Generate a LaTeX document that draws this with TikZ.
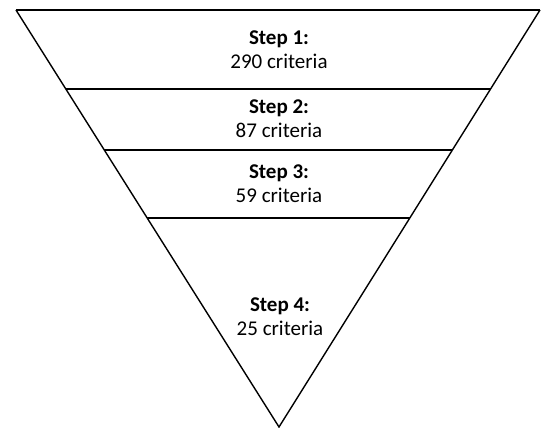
\documentclass[tikz,border=0pt]{standalone}
\usepackage{fontspec}
\setmainfont{Carlito}
\usetikzlibrary{calc}

\tikzset{
	stage/.style={align=center, font=\fontsize{21}{24}\selectfont, inner sep=0.75pt},
	cut/.style={line width=2pt},
}

\begin{document}
\begin{tikzpicture}[x=1pt,y=1pt,yscale=-1]
	\useasboundingbox (0,0) rectangle (547,428);
	% funnel outline
	\coordinate (tl) at (16,10);
	\coordinate (tr) at (540,10);
	\coordinate (apex) at (279,427);
	\draw [line width=1.4pt, line join=miter] (tl) -- (apex) -- (tr);
	\draw [cut] (tl) -- (tr);
	% cuts between the steps
	\foreach \t [count=\i] in {0.1894,0.3357,0.4988} {
		\draw [cut] ($(tl)!\t!(apex)$) -- ($(tr)!\t!(apex)$);
	}
	\draw (279,50) node [stage] (s1) {\textbf{Step 1:}\\290 criteria};
	\draw (279,119) node [stage] (s2) {\textbf{Step 2:}\\87 criteria};
	\draw (279,184) node [stage] (s3) {\textbf{Step 3:}\\59 criteria};
	\draw (280,317) node [stage] (s4) {\textbf{Step 4:}\\25 criteria};
\end{tikzpicture}
\end{document}
